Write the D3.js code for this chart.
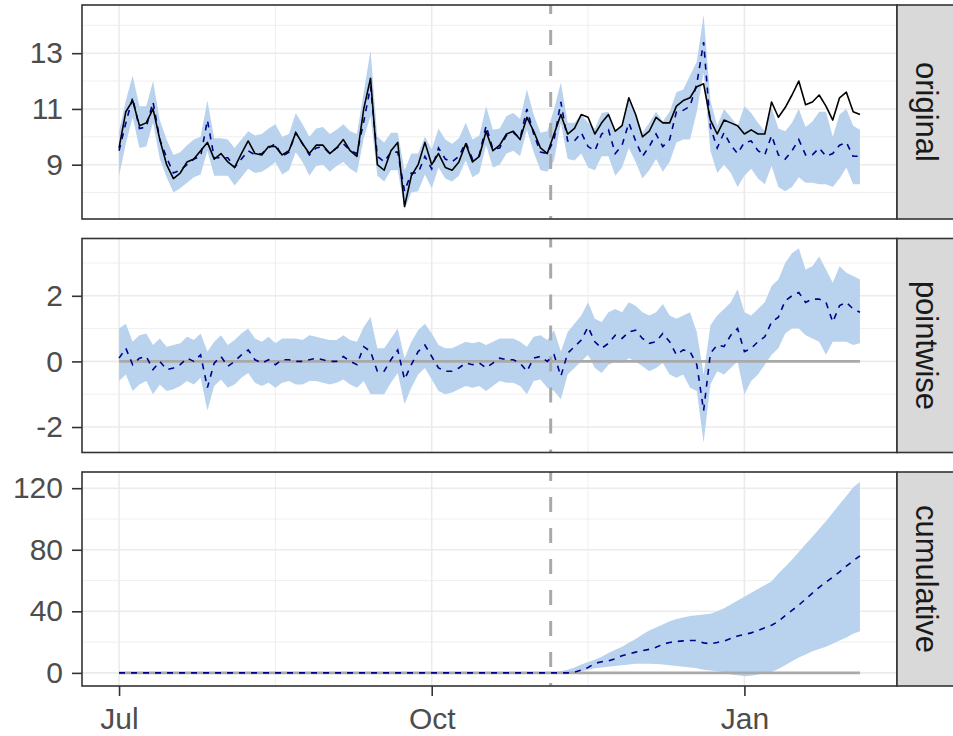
<!DOCTYPE html>
<html>
<head>
<meta charset="utf-8">
<script src="https://cdn.jsdelivr.net/npm/d3@7"></script>
<style>
  body { margin: 0; background: #fff; }
  text { font-family: "Liberation Sans", Arial, sans-serif; }
</style>
</head>
<body>
<div id="chart"></div>
<script>
// ---- data (one value every 2 days from 1 Jul) ----
var startDate = new Date(2019, 6, 1);
var dayStep = 2;
var interventionDate = new Date(2019, 10, 5);

var observed = [
  9.6, 10.9, 11.3, 10.4, 10.5, 11.0, 9.9, 9.0, 8.5, 8.7,
  9.1, 9.2, 9.5, 9.8, 9.2, 9.4, 9.1, 8.9, 9.4, 9.85,
  9.4, 9.35, 9.65, 9.65, 9.35, 9.5, 10.15, 9.75, 9.4, 9.7,
  9.7, 9.4, 9.6, 9.9, 9.5, 9.3, 11.0, 12.1, 9.0, 8.8,
  9.5, 9.8, 7.5, 8.6, 9.0, 9.8, 9.0, 9.4, 8.9, 8.8,
  9.1, 9.75, 9.1, 9.3, 10.2, 9.5, 9.7, 10.1, 10.2, 9.9,
  10.7, 10.2, 9.6, 9.4, 10.1, 10.8, 10.1, 10.3, 10.8, 10.7,
  10.1, 10.5, 10.8, 10.2, 10.4, 11.4, 10.8, 10.0, 10.2, 10.7,
  10.5, 10.5, 11.1, 11.3, 11.4, 11.8, 11.9, 10.6, 10.1, 10.6,
  10.5, 10.4, 10.1, 10.25, 10.1, 10.1, 11.25, 10.7, 11.05, 11.5,
  12.0, 11.15, 11.25, 11.5, 11.1, 10.6, 11.4, 11.6, 10.9, 10.8
];

var pointEffect = [
  0.1, 0.4, -0.1, 0.1, 0.15, -0.25, 0.0, -0.25, -0.2, -0.1,
  0.1, 0.0, 0.2, -0.8, -0.05, 0.15, -0.15, 0.0, 0.2, 0.35,
  0.05, -0.05, 0.05, -0.1, 0.05, 0.05, 0.0, 0.0, 0.05, 0.1,
  0.05, 0.0, 0.0, 0.15, 0.0, -0.1, 0.45, 0.3, -0.3, -0.3,
  0.05, 0.35, -0.55, -0.1, 0.3, 0.5, 0.15, -0.2, -0.3, -0.3,
  -0.2, -0.05, -0.1, -0.05, -0.2, -0.05, 0.1, 0.05, 0.05, -0.05,
  -0.3, 0.1, 0.15, 0.0, 0.2, -0.45, 0.25, 0.45, 0.65, 1.05,
  0.6, 0.4, 0.55, 0.8, 0.7, 0.9, 0.95, 0.7, 0.55, 0.6,
  0.85, 0.6, 0.2, 0.35, 0.3, -0.1, -1.5, 0.25, 0.5, 0.45,
  0.8, 1.0, 0.3, 0.4, 0.6, 0.75, 1.2, 1.35, 1.85, 2.0,
  2.1, 1.8, 1.9, 1.9, 1.8, 1.2, 1.7, 1.8, 1.6, 1.5
];

var effectLower = [
  -0.6, -0.4, -0.9, -0.7, -0.6, -1.0, -0.7, -0.9, -0.85, -0.75,
  -0.6, -0.7, -0.5, -1.5, -0.75, -0.55, -0.8, -0.7, -0.5, -0.35,
  -0.65, -0.75, -0.65, -0.8, -0.65, -0.6, -0.7, -0.7, -0.6, -0.6,
  -0.65, -0.7, -0.65, -0.55, -0.7, -0.8, -0.6, -1.0, -1.0, -1.0,
  -0.65, -0.35, -1.3, -0.8, -0.4, -0.2, -0.55, -0.9, -1.0, -0.95,
  -0.85, -0.75, -0.8, -0.75, -0.9, -0.75, -0.6, -0.65, -0.65, -0.75,
  -1.0, -0.6, -0.55, -0.8, -0.9, -1.15, -0.4, -0.2, 0.0, 0.2,
  -0.2, -0.35, -0.1, 0.0, -0.05, 0.1, 0.0, -0.15, -0.3, -0.2,
  -0.05, -0.4, -0.5, -0.4, -0.8, -0.9, -2.48, -0.7, -0.3, -0.4,
  -0.2, 0.0, -1.0, -0.6, -0.4, -0.1, 0.2, 0.4, 0.85, 1.0,
  1.0, 0.8, 0.7, 0.6, 0.2, 0.6, 0.6, 0.6, 0.5, 0.55
];

var effectUpper = [
  1.0, 1.15, 0.6, 0.8, 0.85, 0.5, 0.7, 0.45, 0.5, 0.55,
  0.75, 0.65, 0.85, 0.3, 0.6, 0.8, 0.5, 0.65, 0.85, 1.0,
  0.7, 0.6, 0.75, 0.55, 0.7, 0.7, 0.7, 0.65, 0.8, 0.75,
  0.7, 0.65, 0.65, 0.8, 0.65, 0.6, 1.05, 1.35, 0.4, 0.4,
  0.7, 1.0, 0.1, 0.6, 0.95, 1.15, 0.85, 0.5, 0.4, 0.4,
  0.5, 0.6, 0.55, 0.6, 0.5, 0.6, 0.7, 0.7, 0.7, 0.6,
  0.45, 0.75, 0.8, 0.65, 0.95, 0.3, 0.9, 1.15, 1.4, 1.8,
  1.3, 1.2, 1.5, 1.6, 1.5, 1.8, 1.7, 1.5, 1.4, 1.5,
  1.75, 1.4, 1.3, 1.4, 1.5, 0.9, -0.4, 1.1, 1.4, 1.6,
  1.8, 2.2, 1.5, 1.4, 1.6, 1.8, 2.3, 2.5, 3.0, 3.3,
  3.45, 2.8, 2.9, 3.2, 2.8, 2.4, 2.9, 2.7, 2.6, 2.5
];

// cumulative effect, post-period only (pre-period is 0)
var cumEffect = [
  0, 0, 0, 0.5, 1.8, 3.5, 6.2, 7.2, 7.8, 9.2,
  11.2, 12.3, 13.5, 14.4, 15.3, 16.6, 18.6, 19.8, 20.4, 20.8,
  21.0, 21.0, 19.5, 18.9, 19.8, 20.7, 22.3, 24.0, 25.0, 26.0,
  27.6, 29.3, 31.0, 33.4, 37.2, 40.6, 44.0, 48.0, 51.8, 55.6,
  59.0, 62.2, 65.6, 69.4, 72.8, 76.0
];
var cumLower = [
  -0.3, -0.6, -0.3, 0, 1, 2, 3, 3.5, 4, 4.5,
  5, 5.5, 6, 6, 6, 5.8, 5.5, 5, 4.5, 4,
  3.5, 3, 2, 1.5, 1, 0.5, -1.0, -1.6, -2.2, -1.8,
  -1.0, 0.3, 0.8, 2.5, 5, 7.5, 10, 12, 14, 15.5,
  17, 19, 21, 23, 25.5, 27
];
var cumUpper = [
  0.3, 1, 2, 3.5, 5.5, 7, 8.5, 10.5, 13, 15,
  17, 19.5, 22, 25, 27.5, 29.5, 31.5, 33.5, 35, 36,
  37, 37.5, 38, 38.5, 40, 42, 44.5, 47, 49.5, 52,
  54.5, 57, 59.5, 64.5, 69, 73.5, 78.5, 83.5, 88.5, 93.5,
  98.5, 104, 109.5, 115, 120.5, 124.2
];

var panelNames = ["original", "pointwise", "cumulative"];
var yTicks = [[9, 11, 13], [-2, 0, 2], [0, 40, 80, 120]];
var yMinorTicks = [[8, 10, 12, 14], [-3, -1, 1, 3], [-20, 20, 60, 100, 140]];
var xTickDates = [new Date(2019, 6, 1), new Date(2019, 9, 1), new Date(2020, 0, 1)];
var xMinorDates = [new Date(2019, 7, 16), new Date(2019, 10, 16)];

// ---- layout ----
var svgWidth = 953;
var svgHeight = 736;
var margin = { top: 5, right: 56, bottom: 50, left: 82 };
var width = svgWidth - margin.left - margin.right;   // 815
var panelHeight = 214;
var panelStep = 233.5;
var stripWidth = 60;

var svg = d3.select("#chart")
  .append("svg")
  .attr("width", svgWidth)
  .attr("height", svgHeight);

// build table
var dates = observed.map((v, i) => d3.timeDay.offset(startDate, i * dayStep));
var postStart = dates.findIndex(d => d >= interventionDate);

var rows = dates.map((d, i) => {
  var post = i >= postStart;
  return {
    date: d,
    observed: observed[i],
    predicted: observed[i] - pointEffect[i],
    predLower: observed[i] - effectUpper[i],
    predUpper: observed[i] - effectLower[i],
    effect: pointEffect[i],
    effLower: effectLower[i],
    effUpper: effectUpper[i],
    cum: post ? cumEffect[i - postStart] : 0,
    cumLower: post ? cumLower[i - postStart] : 0,
    cumUpper: post ? cumUpper[i - postStart] : 0
  };
});

var panels = [
  { mean: "predicted", lo: "predLower", hi: "predUpper", response: "observed", zero: false },
  { mean: "effect", lo: "effLower", hi: "effUpper", response: null, zero: true },
  { mean: "cum", lo: "cumLower", hi: "cumUpper", response: null, zero: true }
];

// x scale, ggplot style 5% expansion
var xExt = d3.extent(dates);
var xPad = (xExt[1] - xExt[0]) * 0.05;
var x = d3.scaleTime()
  .domain([new Date(+xExt[0] - xPad), new Date(+xExt[1] + xPad)])
  .range([0, width]);

var gridColor = "#EBEBEB";
var borderColor = "#333333";

panels.forEach((p, pi) => {
  var top = margin.top + pi * panelStep;

  var vals = [];
  rows.forEach(r => {
    vals.push(r[p.lo], r[p.hi], r[p.mean]);
    if (p.response) vals.push(r[p.response]);
  });
  if (p.zero) vals.push(0);
  var yExt = d3.extent(vals);
  var yPad = (yExt[1] - yExt[0]) * 0.05;
  var y = d3.scaleLinear()
    .domain([yExt[0] - yPad, yExt[1] + yPad])
    .range([panelHeight, 0]);

  var g = svg.append("g")
    .attr("transform", `translate(${margin.left}, ${top})`);

  g.append("clipPath").attr("id", "clip" + pi)
    .append("rect").attr("width", width).attr("height", panelHeight);

  // grid
  var grid = g.append("g").attr("clip-path", `url(#clip${pi})`);
  grid.selectAll(".ymin").data(yMinorTicks[pi]).enter().append("line")
    .attr("x1", 0).attr("x2", width)
    .attr("y1", d => y(d)).attr("y2", d => y(d))
    .attr("stroke", gridColor).attr("stroke-width", 0.8);
  grid.selectAll(".xmin").data(xMinorDates).enter().append("line")
    .attr("x1", d => x(d)).attr("x2", d => x(d))
    .attr("y1", 0).attr("y2", panelHeight)
    .attr("stroke", gridColor).attr("stroke-width", 0.8);
  grid.selectAll(".ymaj").data(yTicks[pi]).enter().append("line")
    .attr("x1", 0).attr("x2", width)
    .attr("y1", d => y(d)).attr("y2", d => y(d))
    .attr("stroke", gridColor).attr("stroke-width", 1.6);
  grid.selectAll(".xmaj").data(xTickDates).enter().append("line")
    .attr("x1", d => x(d)).attr("x2", d => x(d))
    .attr("y1", 0).attr("y2", panelHeight)
    .attr("stroke", gridColor).attr("stroke-width", 1.6);

  var plot = g.append("g").attr("clip-path", `url(#clip${pi})`);

  // interval ribbon
  plot.append("path")
    .datum(rows)
    .attr("fill", "#B9D3EE")
    .attr("d", d3.area()
      .x(d => x(d.date))
      .y0(d => y(d[p.lo]))
      .y1(d => y(d[p.hi])));

  // zero line
  if (p.zero) {
    plot.append("path")
      .datum(rows)
      .attr("fill", "none")
      .attr("stroke", "#A9A9A9")
      .attr("stroke-width", 2.6)
      .attr("d", d3.line().x(d => x(d.date)).y(() => y(0)));
  }

  // intervention
  plot.append("line")
    .attr("x1", x(interventionDate)).attr("x2", x(interventionDate))
    .attr("y1", -6).attr("y2", panelHeight + 6)
    .attr("stroke", "#A9A9A9")
    .attr("stroke-width", 3)
    .attr("stroke-dasharray", "15,16");

  // mean (dashed)
  plot.append("path")
    .datum(rows)
    .attr("fill", "none")
    .attr("stroke", "#00008B")
    .attr("stroke-width", 1.6)
    .attr("stroke-dasharray", "6,6")
    .attr("d", d3.line().x(d => x(d.date)).y(d => y(d[p.mean])));

  // observed response
  if (p.response) {
    plot.append("path")
      .datum(rows)
      .attr("fill", "none")
      .attr("stroke", "#000")
      .attr("stroke-width", 1.6)
      .attr("stroke-linejoin", "round")
      .attr("d", d3.line().x(d => x(d.date)).y(d => y(d[p.response])));
  }

  // panel border
  g.append("rect")
    .attr("width", width).attr("height", panelHeight)
    .attr("fill", "none")
    .attr("stroke", borderColor)
    .attr("stroke-width", 1.6);

  // y axis
  var yAxis = g.append("g")
    .call(d3.axisLeft(y).tickValues(yTicks[pi]).tickFormat(d => String(d))
      .tickSize(10).tickPadding(9));
  yAxis.select(".domain").remove();
  yAxis.selectAll(".tick line").attr("stroke", borderColor).attr("stroke-width", 1.6);
  yAxis.selectAll(".tick text")
    .attr("fill", "#4D4D4D")
    .style("font-size", "30px")
    .style("font-family", "'Liberation Sans', Arial, sans-serif");

  // strip
  var strip = g.append("g").attr("transform", `translate(${width}, 0)`);
  strip.append("rect")
    .attr("width", stripWidth).attr("height", panelHeight)
    .attr("fill", "#D9D9D9")
    .attr("stroke", borderColor)
    .attr("stroke-width", 1.6);
  strip.append("text")
    .attr("transform", `translate(29, ${panelHeight / 2}) rotate(90)`)
    .attr("text-anchor", "middle")
    .attr("dominant-baseline", "central")
    .attr("fill", "#1A1A1A")
    .style("font-size", "31px")
    .text(panelNames[pi]);

  // x axis on the bottom panel
  if (pi === panels.length - 1) {
    var xAxis = g.append("g")
      .attr("transform", `translate(0, ${panelHeight})`)
      .call(d3.axisBottom(x).tickValues(xTickDates)
        .tickFormat(d3.timeFormat("%b")).tickSize(10).tickPadding(12));
    xAxis.select(".domain").remove();
    xAxis.selectAll(".tick line").attr("stroke", borderColor).attr("stroke-width", 1.6);
    xAxis.selectAll(".tick text")
      .attr("fill", "#4D4D4D")
      .style("font-size", "30px")
      .style("font-family", "'Liberation Sans', Arial, sans-serif");
  }
});
</script>
</body>
</html>
